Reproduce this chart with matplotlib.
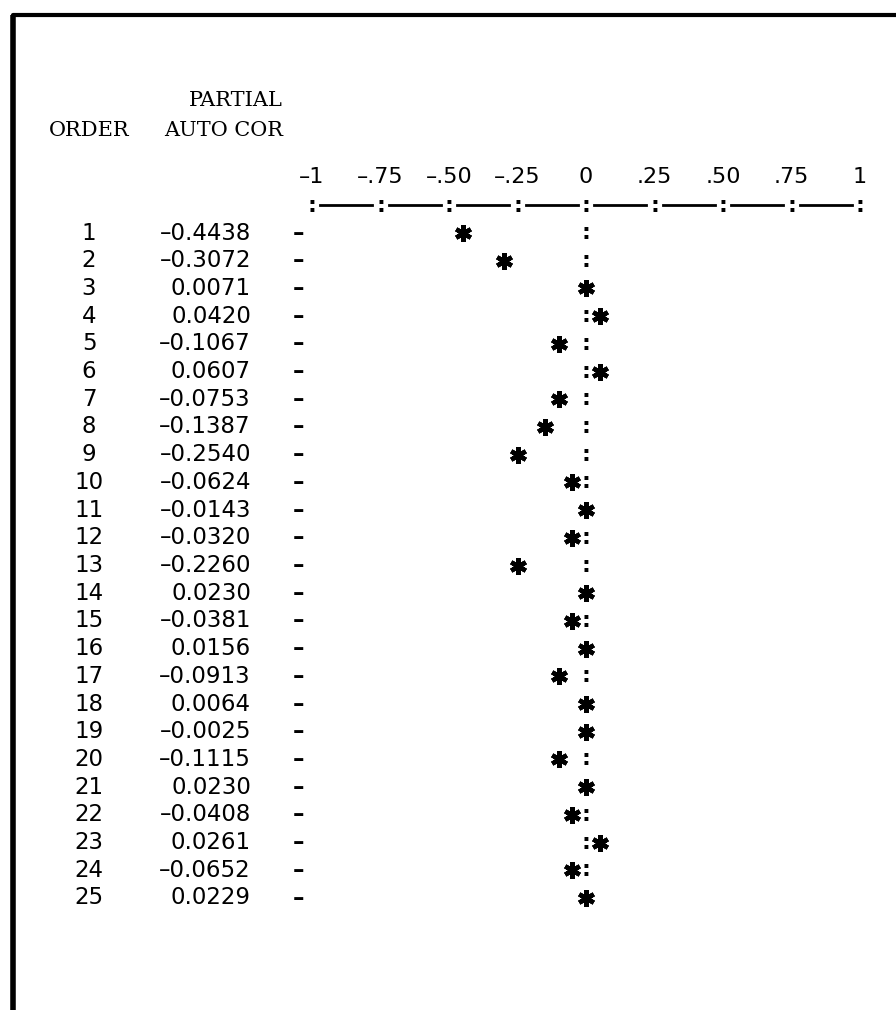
import numpy as np
import matplotlib.pyplot as plt
from matplotlib.transforms import blended_transform_factory

# Partial autocorrelation listing (line printer output)
orders = list(range(1, 26))
pacf = [-0.4438, -0.3072, 0.0071, 0.0420, -0.1067, 0.0607, -0.0753, -0.1387,
        -0.2540, -0.0624, -0.0143, -0.0320, -0.2260, 0.0230, -0.0381, 0.0156,
        -0.0913, 0.0064, -0.0025, -0.1115, 0.0230, -0.0408, 0.0261, -0.0652,
        0.0229]
tick_values = [-1, -0.75, -0.5, -0.25, 0, 0.25, 0.5, 0.75, 1]
tick_labels = ['–1', '–.75', '–.50', '–.25', '0', '.25', '.50', '.75', '1']

W, H = 896, 1010
fig = plt.figure(figsize=(W / 100, H / 100), dpi=100)

# background axes in pixel units for the frame and the headings
bg = fig.add_axes([0, 0, 1, 1])
bg.set_xlim(0, W)
bg.set_ylim(H, 0)
bg.axis('off')
bg.plot([13, 13], [H, 15], color='black', lw=4, solid_capstyle='butt')
bg.plot([13, W], [15, 15], color='black', lw=3, solid_capstyle='round')

serif = 'DejaVu Serif'
bg.text(283, 101, 'PARTIAL', ha='right', va='center', family=serif, fontsize=15)
bg.text(283, 131, 'AUTO COR', ha='right', va='center', family=serif, fontsize=15)
bg.text(89, 131, 'ORDER', ha='center', va='center', family=serif, fontsize=15)

# plot axes: x is the correlation, y is the order
top, bottom = 233, 898
ax = fig.add_axes([312 / W, (H - bottom) / H, 548 / W, (bottom - top) / H])
ax.set_xlim(-1, 1)
ax.set_ylim(25, 1)
ax.axis('off')

row_tr = blended_transform_factory(bg.transData, ax.transData)
head_tr = blended_transform_factory(ax.transData, bg.transData)

sans = 'DejaVu Sans'
for o, v in zip(orders, pacf):
    ax.text(89, o, str(o), ha='center', va='center', family=sans,
            fontsize=16.5, transform=row_tr)
    ax.text(251, o, f'{v:.4f}'.replace('-', '–'), ha='right', va='center',
            family=sans, fontsize=16.5, transform=row_tr)
    ax.text(-1.05, o, '–', ha='center', va='center', family=sans,
            fontsize=16.5, fontweight='bold')

# printer puts the star in a character cell of 0.05
cells = np.round(np.array(pacf) / 0.05) * 0.05
for o, c in zip(orders, cells):
    if c != 0:
        ax.text(0, o, ':', ha='center', va='center', family=sans,
                fontsize=16, fontweight='bold')
ax.plot(cells, orders, linestyle='none', marker=(6, 2, 0), markersize=12,
        markeredgewidth=3.2, color='black', clip_on=False)

# scale line and labels
for t0, t1 in zip(tick_values[:-1], tick_values[1:]):
    ax.plot([t0 + 0.03, t1 - 0.03], [205, 205], color='black', lw=2,
            transform=head_tr, clip_on=False)
for t, lab in zip(tick_values, tick_labels):
    ax.text(t, 206, ':', ha='center', va='center', family=sans, fontsize=16,
            fontweight='bold', transform=head_tr)
    ax.text(t, 177, lab, ha='center', va='center', family=sans, fontsize=16,
            transform=head_tr)

fig.savefig('out.png', dpi=100)
